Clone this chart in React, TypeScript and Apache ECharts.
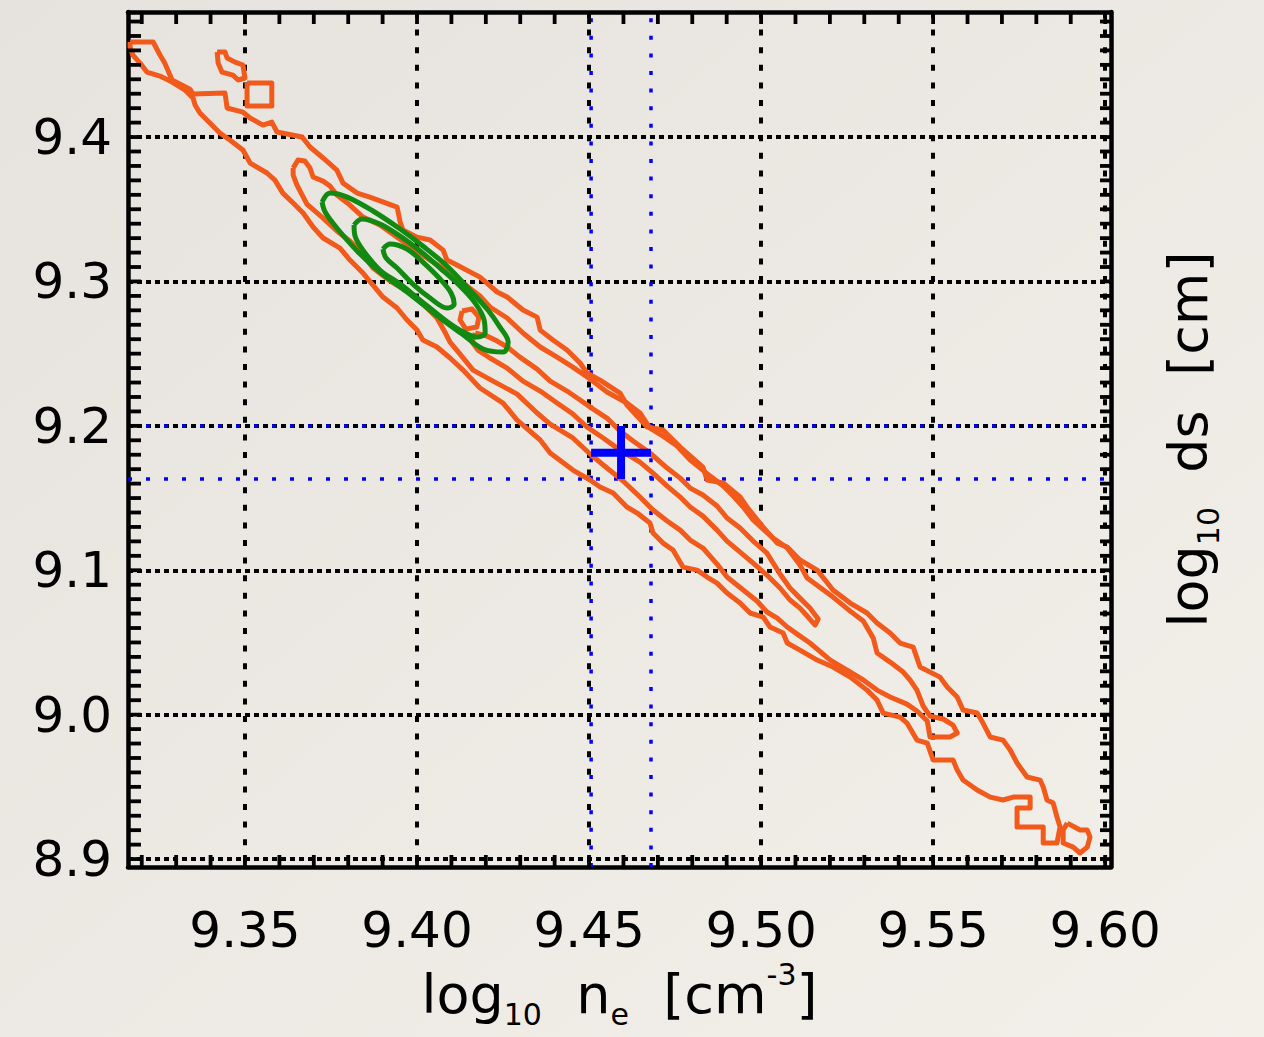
import React, { useEffect, useRef } from "react";
import * as echarts from "echarts";

const FONT = "DejaVu Sans";
const X_MIN = 9.316;
const X_MAX = 9.6017;
const Y_MIN = 8.8945;
const Y_MAX = 9.4866;

const xTickLabels = [9.35, 9.4, 9.45, 9.5, 9.55, 9.6];
const yTickLabels = [8.9, 9.0, 9.1, 9.2, 9.3, 9.4];
const xMinorTicks = [
  9.32, 9.33, 9.34, 9.35, 9.36, 9.37, 9.38, 9.39, 9.4, 9.41, 9.42, 9.43, 9.44, 9.45, 9.46,
  9.47, 9.48, 9.49, 9.5, 9.51, 9.52, 9.53, 9.54, 9.55, 9.56, 9.57, 9.58, 9.59, 9.6,
];
const yMinorTicks = [
  8.9, 8.91, 8.92, 8.93, 8.94, 8.95, 8.96, 8.97, 8.98, 8.99, 9.0, 9.01, 9.02, 9.03, 9.04,
  9.05, 9.06, 9.07, 9.08, 9.09, 9.1, 9.11, 9.12, 9.13, 9.14, 9.15, 9.16, 9.17, 9.18, 9.19,
  9.2, 9.21, 9.22, 9.23, 9.24, 9.25, 9.26, 9.27, 9.28, 9.29, 9.3, 9.31, 9.32, 9.33, 9.34,
  9.35, 9.36, 9.37, 9.38, 9.39, 9.4, 9.41, 9.42, 9.43, 9.44, 9.45, 9.46, 9.47, 9.48,
];

// best-fit point and its uncertainty box
const blueX = [9.4506, 9.468];
const blueY = [9.1632, 9.1999];
const bestFit = [9.4593, 9.1813];

// orange contours (log10 ne, log10 ds)
const outerContour = [
  [9.3166, 9.4658], [9.3233, 9.4658], [9.3253, 9.4568], [9.3267, 9.4512], [9.3288, 9.4395], [9.334, 9.4332],
  [9.3349, 9.4298], [9.3442, 9.4305], [9.3448, 9.4201], [9.3494, 9.4173], [9.3515, 9.4132], [9.3552, 9.4083],
  [9.3578, 9.4104], [9.3593, 9.4035], [9.3666, 9.4], [9.3689, 9.3931], [9.3727, 9.3855], [9.3767, 9.3771],
  [9.3785, 9.3681], [9.3826, 9.3612], [9.3863, 9.3584], [9.3942, 9.3515], [9.3951, 9.3411], [9.3959, 9.3356],
  [9.4, 9.3307], [9.4038, 9.3287], [9.4076, 9.3217], [9.4087, 9.3148], [9.4116, 9.3114], [9.4183, 9.303],
  [9.4233, 9.2927], [9.4262, 9.2892], [9.4308, 9.2802], [9.4349, 9.2753], [9.4358, 9.2663], [9.4395, 9.2594],
  [9.4436, 9.2525], [9.4474, 9.2435], [9.4494, 9.2366], [9.4532, 9.2317], [9.459, 9.2227], [9.461, 9.2144],
  [9.4669, 9.1992], [9.4715, 9.1971], [9.4765, 9.1853], [9.4831, 9.1715], [9.4843, 9.1625], [9.489, 9.1604],
  [9.4939, 9.1507], [9.4959, 9.1438], [9.5006, 9.1299], [9.5047, 9.1188], [9.5076, 9.1161], [9.5113, 9.1071],
  [9.5163, 9.1001], [9.5209, 9.0863], [9.5259, 9.0773], [9.5308, 9.0704], [9.5337, 9.0634], [9.5375, 9.0565],
  [9.5404, 9.0496], [9.5442, 9.0468], [9.5462, 9.033], [9.552, 9.026], [9.5541, 9.0191], [9.557, 9.0122],
  [9.5587, 9.0032], [9.5628, 9.0011], [9.5645, 8.9942], [9.5666, 8.9845], [9.5703, 8.9824], [9.5724, 8.9755],
  [9.5744, 8.9665], [9.5773, 8.9568], [9.5811, 8.9547], [9.582, 8.9499], [9.5831, 8.9409], [9.5849, 8.9388],
  [9.586, 8.9291], [9.5869, 8.9222], [9.586, 8.9111], [9.582, 8.9111], [9.582, 8.9222], [9.5744, 8.9222],
  [9.5744, 8.9353], [9.5782, 8.9353], [9.5782, 8.9429], [9.5733, 8.9429], [9.5703, 8.9409],
  [9.5666, 8.9429], [9.5628, 8.9478], [9.5587, 8.9547], [9.557, 8.9616], [9.5558, 8.9686], [9.55, 8.9686],
  [9.5483, 8.9803], [9.5453, 8.9824], [9.5424, 8.9942], [9.5404, 8.9983], [9.5355, 9.0011], [9.5337, 9.0101],
  [9.5308, 9.017], [9.5259, 9.026], [9.5209, 9.033], [9.5163, 9.0378], [9.5113, 9.0447], [9.5076, 9.0496],
  [9.5064, 9.0565], [9.5026, 9.0607], [9.5006, 9.0676], [9.4968, 9.0704], [9.4939, 9.0773], [9.4901, 9.0842],
  [9.4872, 9.0911], [9.4843, 9.0953], [9.4814, 9.1001], [9.4773, 9.1022], [9.4744, 9.114], [9.4715, 9.1188],
  [9.4686, 9.1258], [9.4677, 9.1327], [9.464, 9.1396], [9.461, 9.1438], [9.457, 9.1535], [9.4532, 9.1576],
  [9.4503, 9.1625], [9.4453, 9.1694], [9.4387, 9.1812], [9.4358, 9.1902], [9.4291, 9.204], [9.425, 9.2158],
  [9.4183, 9.2262], [9.4134, 9.2386], [9.4096, 9.247], [9.4058, 9.2546], [9.4017, 9.2594], [9.4, 9.2663],
  [9.3971, 9.2733], [9.3942, 9.2816], [9.3901, 9.2892], [9.3872, 9.2975], [9.3843, 9.3058], [9.3805, 9.3148],
  [9.3776, 9.3231], [9.3727, 9.3301], [9.3698, 9.3377], [9.3669, 9.3474], [9.364, 9.3543], [9.361, 9.3612],
  [9.3587, 9.3702], [9.3564, 9.3751], [9.3515, 9.382], [9.3494, 9.391], [9.3456, 9.3979], [9.3427, 9.4028],
  [9.3398, 9.4097], [9.3369, 9.4166], [9.3355, 9.4222], [9.3349, 9.427], [9.3326, 9.4325], [9.3288, 9.4381],
  [9.3253, 9.4422], [9.3215, 9.445], [9.3195, 9.4512], [9.3174, 9.4568], [9.3166, 9.4623], [9.3166, 9.4658],
];

const middleContour = [
  [9.364, 9.3785], [9.3654, 9.3841], [9.3674, 9.3834], [9.3689, 9.3785], [9.3698, 9.3723], [9.3727, 9.3695],
  [9.3747, 9.3661], [9.3767, 9.3598], [9.3805, 9.3529], [9.3843, 9.3446], [9.3892, 9.3391], [9.3942, 9.3307],
  [9.3988, 9.3231], [9.4038, 9.3148], [9.4087, 9.3072], [9.4145, 9.2968], [9.4183, 9.2899], [9.4212, 9.2823],
  [9.4262, 9.2747], [9.4308, 9.2643], [9.4358, 9.2546], [9.4407, 9.2476], [9.4453, 9.2407], [9.4503, 9.2324],
  [9.4552, 9.2234], [9.461, 9.2158], [9.4648, 9.2089], [9.4677, 9.1985], [9.4715, 9.1929], [9.4756, 9.186],
  [9.4794, 9.1763], [9.4823, 9.1708], [9.4852, 9.1652], [9.489, 9.1583], [9.4919, 9.1514], [9.4948, 9.1438],
  [9.4977, 9.1348], [9.5006, 9.1285], [9.5035, 9.1223], [9.5076, 9.1154], [9.5113, 9.1036], [9.5134, 9.0946],
  [9.5209, 9.0814], [9.5259, 9.0717], [9.5297, 9.0648], [9.5326, 9.053], [9.5337, 9.0427], [9.5375, 9.0364],
  [9.5413, 9.0295], [9.5433, 9.024], [9.5453, 9.017], [9.5471, 9.006], [9.5491, 8.999], [9.5529, 8.997],
  [9.5558, 8.9928], [9.557, 8.9873],
  [9.5549, 8.9845], [9.5491, 8.9845], [9.5483, 8.9956], [9.5453, 9.0025], [9.5424, 9.0073], [9.5375, 9.0122],
  [9.5337, 9.017], [9.5297, 9.024], [9.525, 9.0309], [9.5201, 9.0378], [9.5142, 9.0496], [9.5105, 9.0558],
  [9.5076, 9.0607], [9.5047, 9.0669], [9.5017, 9.0711], [9.4988, 9.0787], [9.4959, 9.0842], [9.493, 9.0898],
  [9.4901, 9.0953], [9.4872, 9.1043], [9.4831, 9.1154], [9.4794, 9.1209], [9.4765, 9.1278], [9.4727, 9.1341],
  [9.4686, 9.1417], [9.4648, 9.1507], [9.4599, 9.1618], [9.4552, 9.1708], [9.4503, 9.1805], [9.4453, 9.1916],
  [9.4387, 9.2012], [9.4349, 9.2089], [9.4291, 9.222], [9.4221, 9.231], [9.4163, 9.2386], [9.4125, 9.2497],
  [9.4096, 9.258], [9.4081, 9.265],
  [9.4058, 9.2747], [9.4009, 9.2864], [9.3971, 9.2934], [9.3922, 9.3003], [9.3872, 9.3093], [9.3843, 9.319],
  [9.3805, 9.328], [9.3767, 9.3349], [9.3727, 9.3439], [9.368, 9.3536], [9.3651, 9.3668], [9.364, 9.3737],
  [9.364, 9.3785],
];

const innerContour = [
  [9.4169, 9.2643], [9.4203, 9.2622], [9.4233, 9.2587], [9.4262, 9.2546], [9.4299, 9.2476], [9.4349, 9.2393],
  [9.4387, 9.231], [9.4436, 9.2241], [9.4474, 9.2179], [9.4512, 9.2116], [9.4552, 9.2054], [9.459, 9.1964],
  [9.4628, 9.1895], [9.4677, 9.1812], [9.4727, 9.1708], [9.4765, 9.1638], [9.4794, 9.1569], [9.4831, 9.1521],
  [9.4872, 9.1445], [9.4901, 9.1362], [9.4939, 9.1292], [9.4977, 9.1202], [9.5017, 9.1119], [9.5055, 9.0974],
  [9.5084, 9.0877], [9.5113, 9.0807], [9.5142, 9.0738], [9.5166, 9.0662],
  [9.5157, 9.062], [9.5134, 9.0683], [9.5113, 9.0738], [9.5084, 9.0794], [9.5055, 9.0877], [9.5017, 9.0967],
  [9.4977, 9.105], [9.4939, 9.1126], [9.4901, 9.1202], [9.4872, 9.1278], [9.4831, 9.1375], [9.4794, 9.1438],
  [9.4765, 9.1507], [9.4727, 9.1583], [9.4686, 9.1673], [9.4648, 9.1749], [9.459, 9.1832], [9.4541, 9.1916],
  [9.4494, 9.1992], [9.4453, 9.2082], [9.4407, 9.2158], [9.4358, 9.2241], [9.4308, 9.231], [9.4262, 9.24],
  [9.4212, 9.247], [9.4177, 9.2525], [9.416, 9.258], [9.4169, 9.2643],
];

const islandBlob = [
  [9.3419, 9.4589], [9.3442, 9.4589], [9.3448, 9.4547], [9.3471, 9.4519], [9.3494, 9.4499], [9.35, 9.4409],
  [9.348, 9.4395], [9.3465, 9.4429], [9.3433, 9.445], [9.3422, 9.4512], [9.3419, 9.4589],
];
const islandSquare = [[9.3506, 9.4374], [9.3578, 9.4374], [9.3578, 9.4215], [9.3506, 9.4215], [9.3506, 9.4374]];
const islandLoop = [[9.4131, 9.2795], [9.416, 9.2809], [9.418, 9.2753], [9.4174, 9.2684], [9.4142, 9.267], [9.4125, 9.2733], [9.4131, 9.2795]];
const islandTail = [
  [9.589, 8.9249], [9.5927, 8.9201], [9.5948, 8.9201], [9.5956, 8.9152], [9.5948, 8.9083], [9.5927, 8.9042],
  [9.5907, 8.9083], [9.5878, 8.9111], [9.5878, 8.9201], [9.589, 8.9249],
];

// green confidence ellipses
const greenOuter = [
  [9.3724, 9.355], [9.3747, 9.3612], [9.3797, 9.3584], [9.3872, 9.3488], [9.3951, 9.3363], [9.4017, 9.3245],
  [9.4087, 9.3107], [9.4154, 9.294], [9.4206, 9.2802], [9.4241, 9.2684], [9.4265, 9.258], [9.425, 9.2511],
  [9.4192, 9.2532], [9.4131, 9.2636], [9.4067, 9.2747], [9.3971, 9.2927], [9.3892, 9.3065], [9.3826, 9.3211],
  [9.3767, 9.337], [9.3733, 9.3481], [9.3724, 9.355],
];
const greenMiddle = [
  [9.3817, 9.3391], [9.384, 9.3432], [9.3892, 9.3398], [9.3951, 9.3314], [9.4009, 9.3211], [9.4067, 9.3093],
  [9.4125, 9.2968], [9.4169, 9.285], [9.4195, 9.2733], [9.4198, 9.2643], [9.4174, 9.2615], [9.4125, 9.2663],
  [9.4081, 9.2733], [9.4009, 9.2871], [9.3951, 9.2982], [9.3892, 9.3079], [9.3843, 9.3217], [9.382, 9.3314],
  [9.3817, 9.3391],
];
const greenInner = [
  [9.3901, 9.3224], [9.3922, 9.3259], [9.3971, 9.3224], [9.4017, 9.3134], [9.4067, 9.3017], [9.4099, 9.292],
  [9.4108, 9.2843], [9.4087, 9.2816], [9.4038, 9.2885], [9.3988, 9.2982], [9.3942, 9.3093], [9.391, 9.3162],
  [9.3901, 9.3224],
];

export default function App() {
  const ref = useRef<HTMLDivElement>(null);

  useEffect(() => {
    if (!ref.current) return;
    const chart = echarts.init(ref.current, null, { renderer: "svg" });
    const orange = "#f25a1c";
    const green = "#128a12";
    const blue = "#0000ff";

    const lineSeries = (data: number[][], color: string, width: number, extra: any = {}) => ({
      type: "line",
      data,
      symbol: "none",
      showSymbol: false,
      silent: true,
      lineStyle: { color, width, join: "round", ...(extra.lineStyle || {}) },
      z: extra.z ?? 3,
      smooth: extra.smooth ?? false,
    });

    const blueDotted = [
      ...blueX.map((x) =>
        lineSeries([[x, Y_MIN], [x, Y_MAX]], blue, 3.5, { lineStyle: { type: [4, 13.6] }, z: 2 })
      ),
      ...blueY.map((y) =>
        lineSeries([[X_MIN, y], [X_MAX, y]], blue, 3.5, { lineStyle: { type: [4, 14] }, z: 2 })
      ),
    ];

    const tickSeriesX = {
      type: "custom",
      coordinateSystem: "cartesian2d",
      silent: true,
      z: 20,
      data: xMinorTicks.map((v) => [v, Y_MIN]),
      encode: { x: 0, y: 1 },
      renderItem: (params: any, api: any) => {
        const cs = params.coordSys;
        const px = api.coord([api.value(0), Y_MIN])[0];
        const top = cs.y;
        const bottom = cs.y + cs.height;
        return {
          type: "group",
          children: [
            { type: "line", shape: { x1: px, y1: bottom, x2: px, y2: bottom - 12 }, style: { stroke: "#000", lineWidth: 3.8 } },
            { type: "line", shape: { x1: px, y1: top, x2: px, y2: top + 12 }, style: { stroke: "#000", lineWidth: 3.8 } },
          ],
        };
      },
    };
    const tickSeriesY = {
      type: "custom",
      coordinateSystem: "cartesian2d",
      silent: true,
      z: 20,
      data: yMinorTicks.map((v) => [X_MIN, v]),
      encode: { x: 0, y: 1 },
      renderItem: (params: any, api: any) => {
        const cs = params.coordSys;
        const py = api.coord([X_MIN, api.value(1)])[1];
        const left = cs.x;
        const right = cs.x + cs.width;
        return {
          type: "group",
          children: [
            { type: "line", shape: { x1: left, y1: py, x2: left + 13, y2: py }, style: { stroke: "#000", lineWidth: 3.8 } },
            { type: "line", shape: { x1: right, y1: py, x2: right - 11, y2: py }, style: { stroke: "#000", lineWidth: 3.8 } },
          ],
        };
      },
    };

    const titleRich = {
      m: { fontSize: 54, lineHeight: 70, fontFamily: FONT, color: "#000" },
      s: { fontSize: 30, lineHeight: 30, fontFamily: FONT, color: "#000", verticalAlign: "bottom" },
      p: { fontSize: 30, lineHeight: 30, fontFamily: FONT, color: "#000", verticalAlign: "top" },
    };

    const border = { show: true, onZero: false, lineStyle: { color: "#000", width: 4.5 } };

    const option: any = {
      animation: false,
      backgroundColor: new echarts.graphic.LinearGradient(0, 0, 1, 1, [
        { offset: 0, color: "#e6e3de" },
        { offset: 1, color: "#f3f0ea" },
      ]),
      textStyle: { fontFamily: FONT },
      grid: { left: 128, top: 12, width: 983, height: 855, containLabel: false },
      xAxis: [
        {
          type: "value",
          position: "bottom",
          min: X_MIN,
          max: X_MAX,
          axisLine: border,
          axisTick: { show: false, customValues: xTickLabels },
          axisLabel: {
            customValues: xTickLabels,
            formatter: (v: number) => v.toFixed(2),
            fontSize: 50,
            color: "#000",
            margin: 38,
            fontFamily: FONT,
          },
          splitLine: { show: true, lineStyle: { color: "#000", width: 4, type: [6, 11.6] } },
          name: "{m|log}{s|10}{m|  n}{s|e}{m|  [cm}{p|-3}{m|]}",
          nameLocation: "middle",
          nameGap: 92,
          nameTextStyle: { rich: titleRich },
        },
        {
          type: "value",
          position: "top",
          min: X_MIN,
          max: X_MAX,
          axisLine: border,
          axisTick: { show: false },
          axisLabel: { show: false },
          splitLine: { show: false },
        },
      ],
      yAxis: [
        {
          type: "value",
          position: "left",
          min: Y_MIN,
          max: Y_MAX,
          axisLine: border,
          axisTick: { show: false, customValues: yTickLabels },
          axisLabel: {
            customValues: yTickLabels,
            formatter: (v: number) => v.toFixed(1),
            fontSize: 50,
            color: "#000",
            margin: 16,
            fontFamily: FONT,
          },
          splitLine: { show: true, lineStyle: { color: "#000", width: 4, type: [5, 4] } },
        },
        {
          type: "value",
          position: "right",
          min: Y_MIN,
          max: Y_MAX,
          axisLine: border,
          axisTick: { show: false },
          axisLabel: { show: false },
          splitLine: { show: false },
          name: "{m|log}{s|10}{m|  ds  [cm]}",
          nameLocation: "middle",
          nameGap: 42,
          nameTextStyle: { rich: titleRich },
        },
      ],
      series: [
        ...blueDotted,
        lineSeries(outerContour, orange, 5),
        lineSeries(middleContour, orange, 5),
        lineSeries(innerContour, orange, 5),
        lineSeries(islandBlob, orange, 5),
        lineSeries(islandSquare, orange, 5),
        lineSeries(islandLoop, orange, 5),
        lineSeries(islandTail, orange, 5),
        lineSeries(greenOuter, green, 5, { smooth: 0.35, z: 4 }),
        lineSeries(greenMiddle, green, 5, { smooth: 0.35, z: 4 }),
        lineSeries(greenInner, green, 5, { smooth: 0.35, z: 4 }),
        lineSeries([[blueX[0], bestFit[1]], [blueX[1], bestFit[1]]], blue, 8, { z: 6 }),
        lineSeries([[bestFit[0], blueY[0]], [bestFit[0], blueY[1]]], blue, 8, { z: 6 }),
        tickSeriesX,
        tickSeriesY,
      ],
    };

    chart.setOption(option);
    return () => chart.dispose();
  }, []);

  return (
    <div
      ref={ref}
      style={{ position: "absolute", left: 0, top: 0, width: 1264, height: 1037 }}
    />
  );
}
